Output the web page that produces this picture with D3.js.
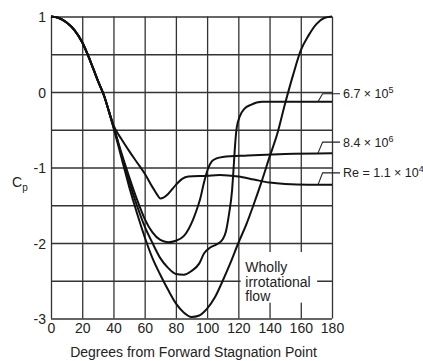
<!DOCTYPE html>
<html>
<head>
<meta charset="utf-8">
<script src="https://cdn.jsdelivr.net/npm/d3@7/dist/d3.min.js"></script>
<style>
  html, body { margin: 0; padding: 0; background: #fff; }
  svg { display: block; }
  text { font-family: "Liberation Sans", Arial, Helvetica, sans-serif; fill: #222; }
</style>
</head>
<body>
<div id="chart"></div>
<script>
// tick values
const xTicks = [0, 20, 40, 60, 80, 100, 120, 140, 160, 180];
const yGrid = [-3, -2.5, -2, -1.5, -1, -0.5, 0, 0.5, 1];

// wholly irrotational flow
const irrotDeg = [0, 5, 10, 15, 20, 25, 30, 34, 37, 40, 45, 50, 55, 60, 65, 70, 75, 80, 85, 90,
    95, 100, 105, 110, 115, 120, 125, 130, 135, 140, 145, 150, 155, 160, 165, 170, 175, 180];
const irrotCp = [1, 0.98, 0.92, 0.82, 0.66, 0.42, 0.15, -0.05, -0.25, -0.47, -0.86, -1.25, -1.6, -1.92, -2.2, -2.42, -2.62, -2.8, -2.92, -2.98,
    -2.96, -2.87, -2.72, -2.5, -2.26, -2.0, -1.76, -1.48, -1.18, -0.86, -0.55, -0.15, 0.22, 0.55, 0.75, 0.9, 0.98, 1];

// Re = 6.7 x 10^5
const re67Deg = [0, 5, 10, 15, 20, 25, 30, 34, 37, 40, 45, 50, 55, 60, 65, 70, 75, 80, 85, 90,
    95, 98, 102, 106, 110, 112, 114, 116, 117, 118, 119, 121, 124, 128, 135, 150, 170, 180];
const re67Cp = [1, 0.98, 0.92, 0.82, 0.66, 0.42, 0.15, -0.05, -0.25, -0.46, -0.82, -1.18, -1.5, -1.78, -2.0, -2.2, -2.33, -2.41, -2.42, -2.37,
    -2.27, -2.14, -2.06, -2.02, -1.95, -1.85, -1.62, -1.3, -1.0, -0.68, -0.47, -0.32, -0.22, -0.17, -0.13, -0.13, -0.13, -0.13];

// Re = 8.4 x 10^6
const re84Deg = [0, 5, 10, 15, 20, 25, 30, 34, 37, 40, 45, 50, 55, 60, 65, 70, 75, 80, 85, 88,
    91, 93.5, 95.5, 98, 100.5, 103, 106, 110, 126, 150, 180];
const re84Cp = [1, 0.98, 0.92, 0.82, 0.66, 0.42, 0.15, -0.05, -0.25, -0.45, -0.8, -1.12, -1.42, -1.68, -1.86, -1.96, -1.99, -1.97, -1.91, -1.82,
    -1.69, -1.55, -1.42, -1.2, -1.02, -0.92, -0.88, -0.86, -0.84, -0.82, -0.81];

// Re = 1.1 x 10^4
const re11Deg = [0, 5, 10, 15, 20, 25, 30, 34, 37, 40, 45, 50, 55, 60, 65, 68, 70, 72, 75, 80,
    84, 88, 100, 108, 120, 130, 140, 150, 165, 180];
const re11Cp = [1, 0.98, 0.92, 0.82, 0.66, 0.42, 0.15, -0.05, -0.25, -0.44, -0.62, -0.78, -0.93, -1.08, -1.26, -1.36, -1.41, -1.4, -1.35, -1.23,
    -1.15, -1.12, -1.11, -1.1, -1.12, -1.16, -1.2, -1.22, -1.23, -1.23];

const W = 423, H = 361;
const svg = d3.select('#chart').append('svg')
    .attr('width', W)
    .attr('height', H);

const x = d3.scaleLinear().domain([0, 180]).range([51, 332]);
const y = d3.scaleLinear().domain([-3, 1]).range([318.5, 16.5]);
const plotTop = y(1), plotBottom = y(-3), plotLeft = x(0), plotRight = x(180);

// grid + axes
const xAxis = d3.axisBottom(x)
    .tickValues(xTicks)
    .tickSize(-(plotBottom - plotTop))
    .tickPadding(5)
    .tickFormat(d3.format('d'));
const gx = svg.append('g')
    .attr('transform', `translate(0, ${plotBottom})`)
    .call(xAxis);

const yAxis = d3.axisLeft(y)
    .tickValues(yGrid)
    .tickSize(-(plotRight - plotLeft))
    .tickPadding(5)
    .tickFormat((d) => Number.isInteger(d) ? d : '');
const gy = svg.append('g')
    .attr('transform', `translate(${plotLeft}, 0)`)
    .call(yAxis);

[gx, gy].forEach((g) => {
    g.select('.domain').remove();
    g.selectAll('line').attr('stroke', '#333').attr('stroke-width', 1.3);
    g.selectAll('text')
        .attr('fill', '#222')
        .style('font-size', '14px')
        .style('font-family', '"Liberation Sans", Arial, sans-serif');
});
gy.selectAll('text').attr('dy', '0.36em');

// white box behind the irrotational label
svg.append('rect')
    .attr('x', x(121.5))
    .attr('y', y(-2.12))
    .attr('width', x(170.5) - x(121.5))
    .attr('height', y(-2.79) - y(-2.12))
    .attr('fill', '#fff');

// curves
const line = d3.line()
    .x((d) => x(d[0]))
    .y((d) => y(d[1]))
    .curve(d3.curveMonotoneX);

const series = [
    { deg: irrotDeg, cp: irrotCp },
    { deg: re67Deg, cp: re67Cp },
    { deg: re84Deg, cp: re84Cp },
    { deg: re11Deg, cp: re11Cp }
];

svg.selectAll('.curve')
    .data(series)
    .enter()
    .append('path')
    .classed('curve', true)
    .attr('d', (s) => line(d3.zip(s.deg, s.cp)))
    .attr('fill', 'none')
    .attr('stroke', '#111')
    .attr('stroke-width', 2)
    .attr('stroke-linejoin', 'round');

// series labels with leader lines
const labels = [
    { cp: re67Cp, lift: 8, pre: '6.7 \u00d7 10', sup: '5' },
    { cp: re84Cp, lift: 11, pre: '8.4 \u00d7 10', sup: '6' },
    { cp: re11Cp, lift: 12, pre: 'Re = 1.1 \u00d7 10', sup: '4' }
];

labels.forEach((l) => {
    const yEnd = y(l.cp[l.cp.length - 1]);
    const yLab = yEnd - l.lift;
    svg.append('path')
        .attr('d', `M${x(171)},${yEnd}L${x(174)},${yLab}L${plotRight + 8},${yLab}`)
        .attr('fill', 'none')
        .attr('stroke', '#222')
        .attr('stroke-width', 1.1);
    const t = svg.append('text')
        .attr('x', plotRight + 11)
        .attr('y', yLab + 4.5)
        .style('font-size', '12.5px');
    t.append('tspan').text(l.pre);
    t.append('tspan').attr('dy', -5).style('font-size', '9px').text(l.sup);
});

// irrotational label
const wholly = svg.append('text')
    .attr('x', x(124.5))
    .style('font-size', '14px');
['Wholly', 'irrotational', 'flow'].forEach((s, i) => {
    wholly.append('tspan')
        .attr('x', x(124.5))
        .attr('y', 272 + i * 14.5)
        .text(s);
});

// axis titles
svg.append('text')
    .attr('x', (plotLeft + plotRight) / 2 + 2)
    .attr('y', 357)
    .attr('text-anchor', 'middle')
    .style('font-size', '14px')
    .text('Degrees from Forward Stagnation Point');

const cp = svg.append('text')
    .attr('x', 12)
    .attr('y', 187)
    .style('font-size', '14px');
cp.append('tspan').text('C');
cp.append('tspan').attr('dy', 4).style('font-size', '10px').text('p');
</script>
</body>
</html>
